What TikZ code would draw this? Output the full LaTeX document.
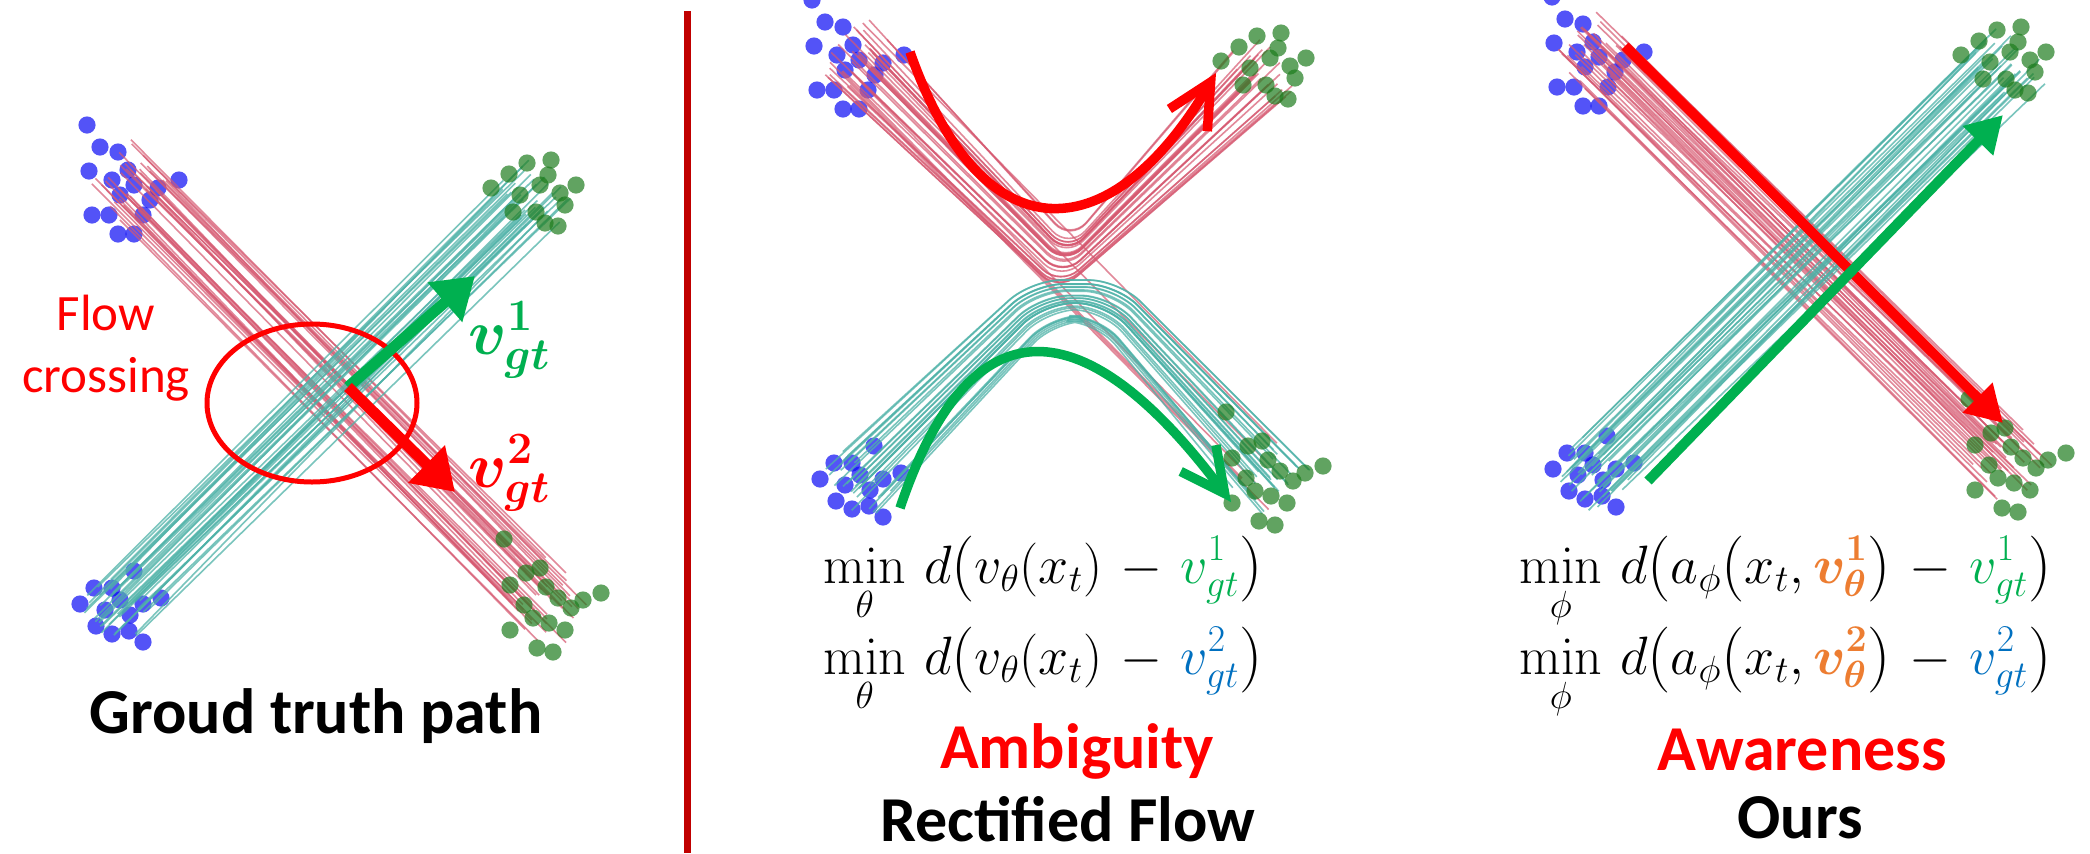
\RequirePackage{fix-cm}
\documentclass[tikz,border=0pt]{standalone}
\usepackage{amsmath,bm,graphicx}
\usepackage[no-math]{fontspec}
\setmainfont{Carlito}
\usepackage{xcolor}
\usetikzlibrary{arrows.meta, shapes.geometric}

\definecolor{dotblue}{RGB}{10,10,245}
\definecolor{dotgreen}{RGB}{30,125,30}
\definecolor{pathred}{RGB}{214,88,112}
\definecolor{pathteal}{RGB}{78,178,168}
\definecolor{arrowgreen}{RGB}{0,176,80}
\definecolor{arrowred}{RGB}{255,0,0}
\definecolor{eqorange}{RGB}{237,125,49}
\definecolor{eqblue}{RGB}{0,112,192}
\definecolor{sepred}{RGB}{192,0,0}

\tikzset{
  bluedot/.style={fill=dotblue, fill opacity=0.7},
  greendot/.style={fill=dotgreen, fill opacity=0.7},
  redpath/.style={draw=pathred, line width=0.8pt, opacity=0.7},
  tealpath/.style={draw=pathteal, line width=0.8pt, opacity=0.75},
  gtarrow/.style={line width=5.5pt, -{Triangle[length=20pt, width=25pt]}},
  flatarrow/.style={line width=5pt, -{Triangle[length=18pt, width=20pt]}},
  curvearrow/.style={line width=4.75pt, -{Straight Barb[length=22pt, width=22pt]}},
  caption/.style={font=\fontsize{32}{38}\selectfont\bfseries, inner sep=0pt, anchor=base},
  crossnote/.style={font=\fontsize{25.5}{31}\selectfont, text=arrowred, align=center, inner sep=0pt, anchor=base},
  vlabel/.style={font=\fontsize{32}{38}\selectfont, inner sep=0pt, anchor=base west},
  eqnode/.style={font=\fontsize{27}{32}\selectfont, inner sep=0pt, anchor=base west}
}

% slightly enlarged brackets for the losses
\newcommand{\lpr}{\mathopen{\raisebox{-0.05em}{\scalebox{1.22}{$($}}}}
\newcommand{\rpr}{\mathclose{\raisebox{-0.05em}{\scalebox{1.22}{$)$}}}}
\newcommand{\wminus}{\mskip 2mu - \mskip 2mu}

% cluster shapes (offsets from cluster centre, in px)
\def\tlpts{-43/-55,-30/-33,-12/-28,-41/-9,-18/0,4/5,28/8,49/0,-38/35,-21/35,4/54,-12/54,13/35,-10/15,-2/-10,20/20}
\def\trpts{-44/-7,-26/-21,-8/-32,16/-35,41/-10,25/-2,-22/17,1/17,23/31,10/28,5/-10,13/-20,-15/0,30/10}
\def\blpts{-35/-6,-21/-22,-3/-22,19/-39,28/-6,46/-12,-19/16,-3/24,14/21,28/32,5/-10,15/5,-10/0}
\def\brpts{-46/-66,-40/-20,-24/-32,-10/-37,-4/-18,8/-7,21/3,33/-5,51/-12,-40/25,-13/43,3/47,15/25,-17/13,-26/0,-1/18}
\newcommand{\drawcluster}[4]{%
  \foreach \dx/\dy in #4 {\fill[#1] (#2+\dx,#3+\dy) circle [radius=4.3pt];}}

\begin{document}
\begin{tikzpicture}[x=0.5pt, y=-0.5pt]
\clip (0,0) rectangle (2090,853);
\fill[white] (0,0) rectangle (2090,853);
\pgfmathsetseed{11}

% ---------- panel 1: ground truth ----------
\drawcluster{bluedot}{130}{180}{\tlpts}
\drawcluster{bluedot}{115}{610}{\blpts}
\foreach \i in {1,...,34}{
  \pgfmathsetmacro{\u}{2*rnd-1}
  \pgfmathsetmacro{\a}{40*rnd-20}
  \pgfmathsetmacro{\na}{16*rnd-8}
  \pgfmathsetmacro{\nb}{16*rnd-8}
  \draw[redpath] (130+25*\u+\a,180-25*\u+\a) -- (550+25*\u+\a+\na,605-25*\u+\a+\nb);
}
\foreach \i in {1,...,34}{
  \pgfmathsetmacro{\v}{2*rnd-1}
  \pgfmathsetmacro{\a}{40*rnd-20}
  \pgfmathsetmacro{\na}{16*rnd-8}
  \pgfmathsetmacro{\nb}{16*rnd-8}
  \draw[tealpath] (115+25*\v+\a,610+25*\v-\a) -- (535+25*\v+\a+\na,195+25*\v-\a+\nb);
}
\drawcluster{greendot}{535}{195}{\trpts}
\drawcluster{greendot}{550}{605}{\brpts}

\node[draw=arrowred, line width=2.5pt, ellipse, minimum width=105pt, minimum height=79pt] (ring) at (312,403) {};
\node[crossnote] (fc) at (106,392) {Flow\\crossing};

\coordinate (gtO) at (348,387);
\coordinate (gtV1) at (475,276);
\coordinate (gtV2) at (455,492);
\draw[gtarrow, arrowgreen] (gtO) -- (gtV1);
\draw[gtarrow, arrowred] (gtO) -- (gtV2);
\node[vlabel, text=arrowgreen] (lv1) at (468,354) {$\bm{v^{1}_{gt}}$};
\node[vlabel, text=arrowred] (lv2) at (468,487) {$\bm{v^{2}_{gt}}$};

\node[caption] (gtcap) at (316,733) {Groud truth path};

% separator
\coordinate (septop) at (687,11);
\coordinate (sepbot) at (687,853);
\draw[sepred, line width=3.5pt] (septop) -- (sepbot);

% ---------- panel 2: rectified flow ----------
\drawcluster{bluedot}{855}{55}{\tlpts}
\drawcluster{bluedot}{855}{485}{\blpts}
\foreach \i in {1,...,28}{
  \pgfmathsetmacro{\u}{2*rnd-1}
  \pgfmathsetmacro{\a}{30*rnd-15}
  \pgfmathsetmacro{\b}{30*rnd-15}
  \draw[redpath, rounded corners=12pt] (855+25*\u+\a,55-25*\u+\a) -- (1065+6*\u,266-26*\u) -- (1265-25*\u+\b,68-25*\u-\b);
}
\foreach \i in {1,...,6}{
  \pgfmathsetmacro{\u}{2*rnd-1}
  \pgfmathsetmacro{\a}{30*rnd-15}
  \pgfmathsetmacro{\b}{30*rnd-15}
  \draw[redpath] (855+20*\u+\a,55-20*\u+\a) -- (1272+20*\u+\b,478-20*\u+\b);
}
\foreach \i in {1,...,28}{
  \pgfmathsetmacro{\v}{2*rnd-1}
  \pgfmathsetmacro{\a}{30*rnd-15}
  \pgfmathsetmacro{\b}{30*rnd-15}
  \draw[tealpath, rounded corners=15pt] (855+25*\v+\a,485+25*\v-\a) -- (1030+12*\v+12,300+22*\v) -- (1120-12*\v-12,300+22*\v) -- (1272-25*\v+\b,478+25*\v+\b);
}
\drawcluster{greendot}{1265}{68}{\trpts}
\drawcluster{greendot}{1272}{478}{\brpts}

\coordinate (rfRs) at (910,52);
\coordinate (rfRe) at (1216,73);
\coordinate (rfGs) at (900,508);
\coordinate (rfGe) at (1231,502);
\draw[curvearrow, arrowred] (rfRs) .. controls (985,265) and (1115,245) .. (rfRe);
\draw[curvearrow, arrowgreen] (rfGs) .. controls (975,285) and (1095,320) .. (rfGe);

\node[eqnode] (rfeq1) at (823,583) {$\displaystyle\min_{\theta}\, d\lpr v_{\theta}(x_t)\wminus{\color{arrowgreen}v^{1}_{gt}}\rpr$};
\node[eqnode] (rfeq2) at (823,674) {$\displaystyle\min_{\theta}\, d\lpr v_{\theta}(x_t)\wminus{\color{eqblue}v^{2}_{gt}}\rpr$};
\node[caption, text=arrowred] (ambig) at (1077,768) {Ambiguity};
\node[caption] (rfcap) at (1068,841) {Rectified Flow};

% ---------- panel 3: ours ----------
\drawcluster{bluedot}{1595}{52}{\tlpts}
\drawcluster{bluedot}{1588}{475}{\blpts}
\foreach \i in {1,...,34}{
  \pgfmathsetmacro{\u}{2*rnd-1}
  \pgfmathsetmacro{\a}{40*rnd-20}
  \pgfmathsetmacro{\na}{16*rnd-8}
  \pgfmathsetmacro{\nb}{16*rnd-8}
  \draw[redpath] (1595+25*\u+\a,52-25*\u+\a) -- (2015+25*\u+\a+\na,465-25*\u+\a+\nb);
}
\foreach \i in {1,...,34}{
  \pgfmathsetmacro{\v}{2*rnd-1}
  \pgfmathsetmacro{\a}{40*rnd-20}
  \pgfmathsetmacro{\na}{16*rnd-8}
  \pgfmathsetmacro{\nb}{16*rnd-8}
  \draw[tealpath] (1588+25*\v+\a,475+25*\v-\a) -- (2005+25*\v+\a+\na,62+25*\v-\a+\nb);
}
\drawcluster{greendot}{2005}{62}{\trpts}
\drawcluster{greendot}{2015}{465}{\brpts}

\coordinate (ouRs) at (1625,46);
\coordinate (ouRe) at (2003,423);
\coordinate (ouGs) at (1648,481);
\coordinate (ouGe) at (2003,115);
\draw[flatarrow, arrowred] (ouRs) -- (ouRe);
\draw[flatarrow, arrowgreen] (ouGs) -- (ouGe);

\node[eqnode] (oueq1) at (1519,583) {$\displaystyle\min_{\phi}\, d\lpr a_{\phi}\lpr x_t, {\color{eqorange}\bm{v}^{\bm{1}}_{\bm{\theta}}}\rpr\wminus{\color{arrowgreen}v^{1}_{gt}}\rpr$};
\node[eqnode] (oueq2) at (1519,674) {$\displaystyle\min_{\phi}\, d\lpr a_{\phi}\lpr x_t, {\color{eqorange}\bm{v}^{\bm{2}}_{\bm{\theta}}}\rpr\wminus{\color{eqblue}v^{2}_{gt}}\rpr$};
\node[caption, text=arrowred] (aware) at (1802,770) {Awareness};
\node[caption] (ours) at (1800,838) {Ours};

\end{tikzpicture}
\end{document}
